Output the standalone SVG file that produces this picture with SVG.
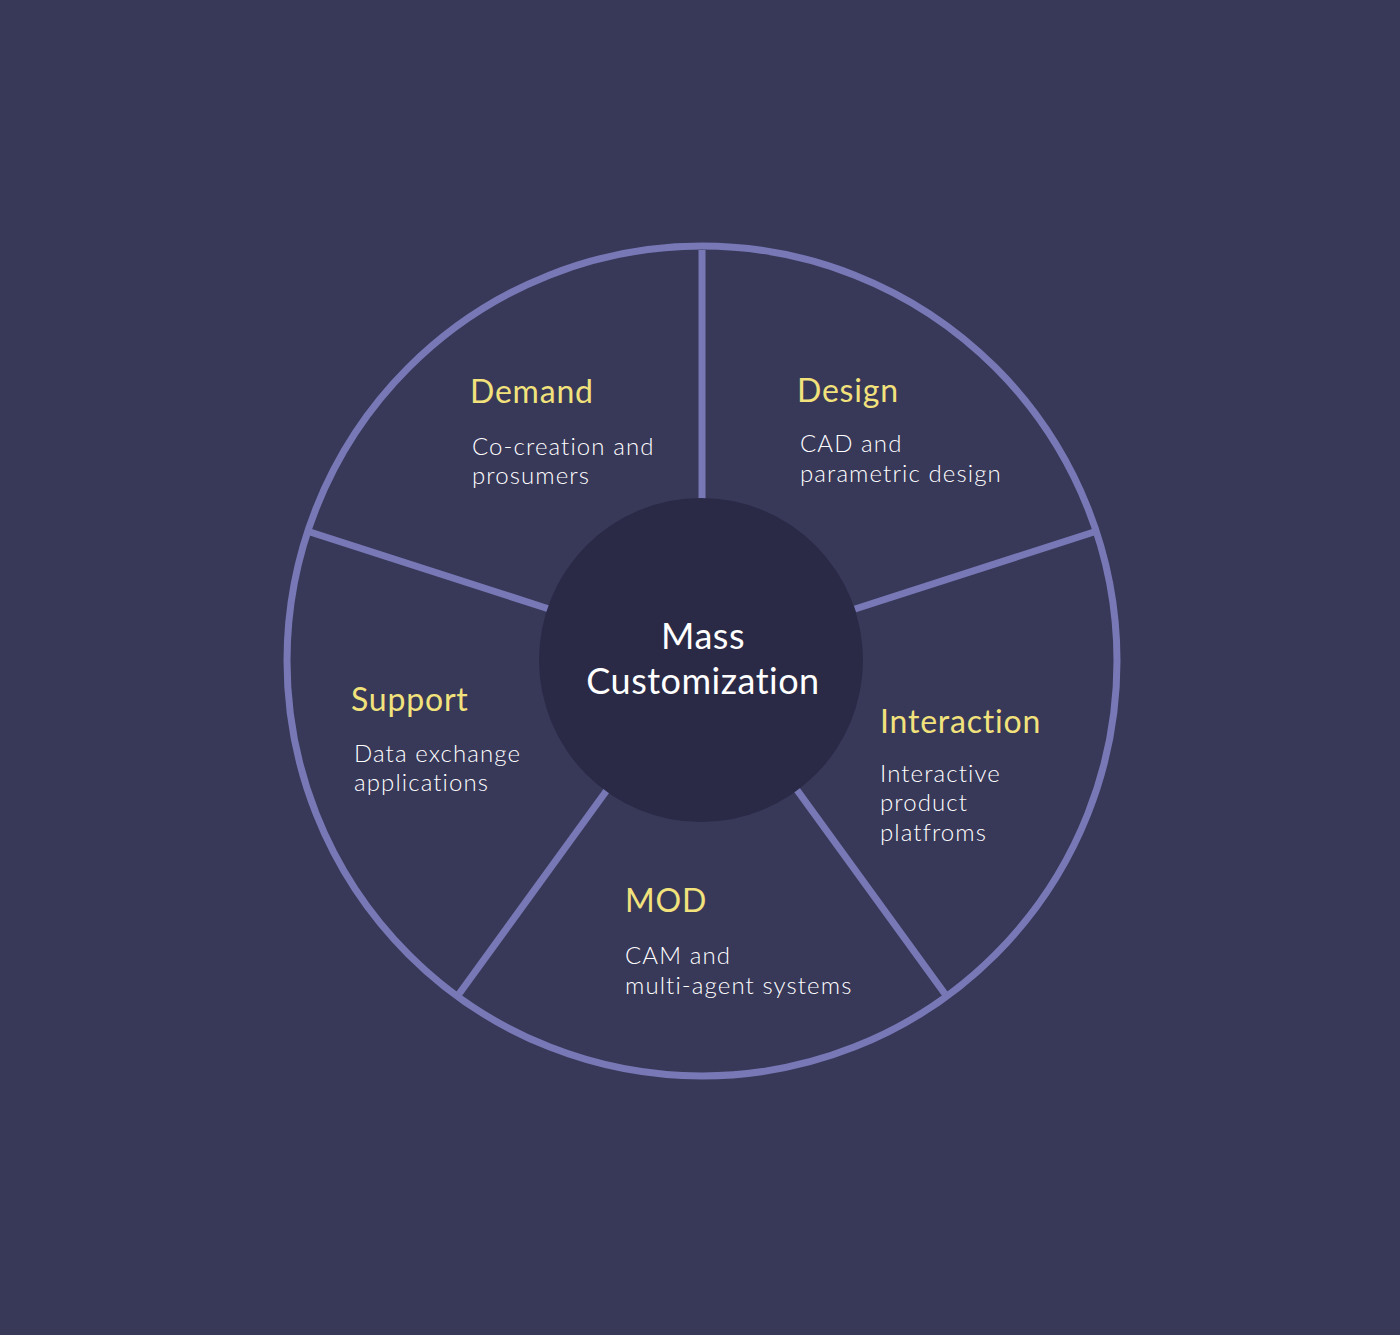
<svg xmlns="http://www.w3.org/2000/svg" width="1400" height="1335" viewBox="0 0 1400 1335">
<style>
.ring{fill:none;stroke:#7878b6;stroke-width:7}
.spoke{stroke:#7878b6;stroke-width:7;fill:none}
.title{font-family:Lato,"Noto Sans",sans-serif;font-size:32px;fill:#f2e27c;letter-spacing:0.8px}
.sub{font-family:Lato,"Noto Sans",sans-serif;font-size:24px;fill:#ffffff;font-weight:300;letter-spacing:1.1px}
.center{font-family:Lato,"Noto Sans",sans-serif;font-size:36px;fill:#ffffff;text-anchor:middle;letter-spacing:0.5px}
</style>
<rect width="1400" height="1335" fill="#383859"/>
<circle class="ring" cx="702" cy="661" r="415"/>
<g id="connectors">
<line class="spoke" x1="702" y1="250" x2="702" y2="500"/>
<line class="spoke" x1="855" y1="609" x2="1094" y2="532"/>
<line class="spoke" x1="549" y1="609" x2="310" y2="532"/>
<line class="spoke" x1="607" y1="790" x2="459" y2="994"/>
<line class="spoke" x1="797" y1="790" x2="945" y2="994"/>
</g>
<g id="center">
<circle cx="701" cy="660" r="162" fill="#2a2a46"/>
<text class="center" x="703" y="649">Mass</text>
<text class="center" x="703" y="694">Customization</text>
</g>
<g id="demand">
<text class="title" x="470" y="403">Demand</text>
<text class="sub" x="472" y="455">Co-creation and</text>
<text class="sub" x="472" y="484">prosumers</text>
</g>
<g id="design">
<text class="title" x="797" y="402">Design</text>
<text class="sub" x="800" y="452">CAD and</text>
<text class="sub" x="800" y="482">parametric design</text>
</g>
<g id="support">
<text class="title" x="351" y="711">Support</text>
<text class="sub" x="354" y="762">Data exchange</text>
<text class="sub" x="354" y="791">applications</text>
</g>
<g id="interaction">
<text class="title" x="880" y="733">Interaction</text>
<text class="sub" x="880" y="782">Interactive</text>
<text class="sub" x="880" y="811">product</text>
<text class="sub" x="880" y="841">platfroms</text>
</g>
<g id="mod">
<text class="title" x="625" y="912">MOD</text>
<text class="sub" x="625" y="964">CAM and</text>
<text class="sub" x="625" y="994">multi-agent systems</text>
</g>
</svg>
